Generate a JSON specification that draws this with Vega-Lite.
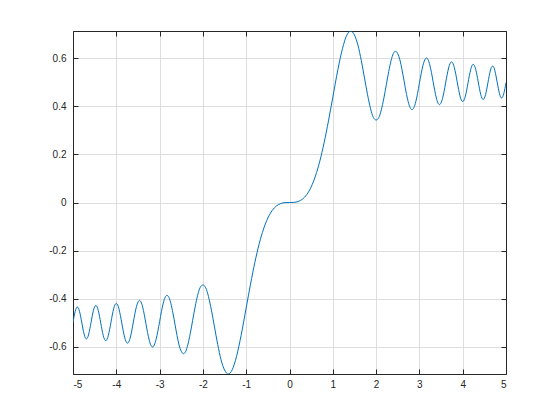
{
  "$schema": "https://vega.github.io/schema/vega-lite/v6.json",
  "width": 433,
  "height": 343,
  "autosize": {"type": "none"},
  "padding": {"left": 73, "top": 31, "right": 54, "bottom": 46},
  "background": "white",
  "config": {
    "view": {"stroke": null},
    "axis": {
      "labelFont": "Liberation Sans",
      "labelFontSize": 10,
      "labelColor": "#262626",
      "domainColor": "#262626",
      "tickColor": "#262626",
      "gridColor": "#dedede",
      "gridOpacity": 1,
      "domainWidth": 1,
      "tickWidth": 1,
      "title": null
    }
  },
  "data": {"values": [
    {"x": -5, "y": -0.4992}, {"x": -4.9749, "y": -0.4746}, {"x": -4.9497, "y": -0.4538}, {"x": -4.9244, "y": -0.4399}, {"x": -4.899, "y": -0.4351},
    {"x": -4.8734, "y": -0.4401}, {"x": -4.8477, "y": -0.4544}, {"x": -4.8218, "y": -0.4758}, {"x": -4.7958, "y": -0.5012}, {"x": -4.7697, "y": -0.5267},
    {"x": -4.7434, "y": -0.5483}, {"x": -4.717, "y": -0.5628}, {"x": -4.6904, "y": -0.5679}, {"x": -4.6637, "y": -0.5626}, {"x": -4.6368, "y": -0.5477},
    {"x": -4.6098, "y": -0.5252}, {"x": -4.5826, "y": -0.4986}, {"x": -4.5552, "y": -0.4719}, {"x": -4.5277, "y": -0.4492}, {"x": -4.5, "y": -0.4342},
    {"x": -4.4721, "y": -0.4287}, {"x": -4.4441, "y": -0.4343}, {"x": -4.4159, "y": -0.45}, {"x": -4.3875, "y": -0.4736}, {"x": -4.3589, "y": -0.5016},
    {"x": -4.3301, "y": -0.5297}, {"x": -4.3012, "y": -0.5536}, {"x": -4.272, "y": -0.5697}, {"x": -4.2426, "y": -0.5753}, {"x": -4.2131, "y": -0.5694},
    {"x": -4.1833, "y": -0.5528}, {"x": -4.1533, "y": -0.5278}, {"x": -4.1231, "y": -0.4982}, {"x": -4.0927, "y": -0.4684}, {"x": -4.062, "y": -0.443},
    {"x": -4.0311, "y": -0.426}, {"x": -4, "y": -0.4205}, {"x": -3.9686, "y": -0.4263}, {"x": -3.937, "y": -0.444}, {"x": -3.9051, "y": -0.4706},
    {"x": -3.873, "y": -0.5022}, {"x": -3.8406, "y": -0.534}, {"x": -3.8079, "y": -0.5611}, {"x": -3.7749, "y": -0.5793}, {"x": -3.7417, "y": -0.5856},
    {"x": -3.7081, "y": -0.5789}, {"x": -3.6742, "y": -0.5599}, {"x": -3.6401, "y": -0.5313}, {"x": -3.6056, "y": -0.4973}, {"x": -3.5707, "y": -0.4631},
    {"x": -3.5355, "y": -0.4339}, {"x": -3.5, "y": -0.4152}, {"x": -3.4641, "y": -0.4074}, {"x": -3.4278, "y": -0.4147}, {"x": -3.3912, "y": -0.4354},
    {"x": -3.3541, "y": -0.4664}, {"x": -3.3166, "y": -0.5034}, {"x": -3.2787, "y": -0.5407}, {"x": -3.2404, "y": -0.5726}, {"x": -3.2016, "y": -0.594},
    {"x": -3.1623, "y": -0.6015}, {"x": -3.1225, "y": -0.5934}, {"x": -3.0822, "y": -0.5707}, {"x": -3.0414, "y": -0.5364}, {"x": -3, "y": -0.4963},
    {"x": -2.958, "y": -0.4542}, {"x": -2.9155, "y": -0.4188}, {"x": -2.8723, "y": -0.3949}, {"x": -2.8284, "y": -0.3866}, {"x": -2.7839, "y": -0.3956},
    {"x": -2.7386, "y": -0.4212}, {"x": -2.6926, "y": -0.4599}, {"x": -2.6458, "y": -0.5062}, {"x": -2.5981, "y": -0.5532}, {"x": -2.5495, "y": -0.5937},
    {"x": -2.5, "y": -0.6192}, {"x": -2.4495, "y": -0.6297}, {"x": -2.3979, "y": -0.6201}, {"x": -2.3452, "y": -0.5903}, {"x": -2.2913, "y": -0.5449},
    {"x": -2.2361, "y": -0.4903}, {"x": -2.1794, "y": -0.4345}, {"x": -2.1213, "y": -0.3861}, {"x": -2.0616, "y": -0.3531}, {"x": -2, "y": -0.3434},
    {"x": -1.9365, "y": -0.3545}, {"x": -1.8708, "y": -0.3916}, {"x": -1.8028, "y": -0.4487}, {"x": -1.7321, "y": -0.5184}, {"x": -1.6583, "y": -0.5907},
    {"x": -1.5811, "y": -0.6546}, {"x": -1.5, "y": -0.6975}, {"x": -1.4142, "y": -0.714}, {"x": -1.3229, "y": -0.6965}, {"x": -1.2247, "y": -0.6417},
    {"x": -1.118, "y": -0.5534}, {"x": -1, "y": -0.4383}, {"x": -0.9, "y": -0.3398}, {"x": -0.8, "y": -0.2493}, {"x": -0.7, "y": -0.1721},
    {"x": -0.6, "y": -0.1105}, {"x": -0.5, "y": -0.0647}, {"x": -0.4, "y": -0.0334}, {"x": -0.3, "y": -0.0141}, {"x": -0.2, "y": -0.0042},
    {"x": -0.1, "y": -0.0005}, {"x": 0, "y": 0},
    {"x": 0.1, "y": 0.0005}, {"x": 0.2, "y": 0.0042}, {"x": 0.3, "y": 0.0141}, {"x": 0.4, "y": 0.0334}, {"x": 0.5, "y": 0.0647},
    {"x": 0.6, "y": 0.1105}, {"x": 0.7, "y": 0.1721}, {"x": 0.8, "y": 0.2493}, {"x": 0.9, "y": 0.3398}, {"x": 1, "y": 0.4383},
    {"x": 1.118, "y": 0.5534}, {"x": 1.2247, "y": 0.6417}, {"x": 1.3229, "y": 0.6965}, {"x": 1.4142, "y": 0.714}, {"x": 1.5, "y": 0.6975},
    {"x": 1.5811, "y": 0.6546}, {"x": 1.6583, "y": 0.5907}, {"x": 1.7321, "y": 0.5184}, {"x": 1.8028, "y": 0.4487}, {"x": 1.8708, "y": 0.3916},
    {"x": 1.9365, "y": 0.3545}, {"x": 2, "y": 0.3434}, {"x": 2.0616, "y": 0.3531}, {"x": 2.1213, "y": 0.3861}, {"x": 2.1794, "y": 0.4345},
    {"x": 2.2361, "y": 0.4903}, {"x": 2.2913, "y": 0.5449}, {"x": 2.3452, "y": 0.5903}, {"x": 2.3979, "y": 0.6201}, {"x": 2.4495, "y": 0.6297},
    {"x": 2.5, "y": 0.6192}, {"x": 2.5495, "y": 0.5937}, {"x": 2.5981, "y": 0.5532}, {"x": 2.6458, "y": 0.5062}, {"x": 2.6926, "y": 0.4599},
    {"x": 2.7386, "y": 0.4212}, {"x": 2.7839, "y": 0.3956}, {"x": 2.8284, "y": 0.3866}, {"x": 2.8723, "y": 0.3949}, {"x": 2.9155, "y": 0.4188},
    {"x": 2.958, "y": 0.4542}, {"x": 3, "y": 0.4963}, {"x": 3.0414, "y": 0.5364}, {"x": 3.0822, "y": 0.5707}, {"x": 3.1225, "y": 0.5934},
    {"x": 3.1623, "y": 0.6015}, {"x": 3.2016, "y": 0.594}, {"x": 3.2404, "y": 0.5726}, {"x": 3.2787, "y": 0.5407}, {"x": 3.3166, "y": 0.5034},
    {"x": 3.3541, "y": 0.4664}, {"x": 3.3912, "y": 0.4354}, {"x": 3.4278, "y": 0.4147}, {"x": 3.4641, "y": 0.4074}, {"x": 3.5, "y": 0.4152},
    {"x": 3.5355, "y": 0.4339}, {"x": 3.5707, "y": 0.4631}, {"x": 3.6056, "y": 0.4973}, {"x": 3.6401, "y": 0.5313}, {"x": 3.6742, "y": 0.5599},
    {"x": 3.7081, "y": 0.5789}, {"x": 3.7417, "y": 0.5856}, {"x": 3.7749, "y": 0.5793}, {"x": 3.8079, "y": 0.5611}, {"x": 3.8406, "y": 0.534},
    {"x": 3.873, "y": 0.5022}, {"x": 3.9051, "y": 0.4706}, {"x": 3.937, "y": 0.444}, {"x": 3.9686, "y": 0.4263}, {"x": 4, "y": 0.4205},
    {"x": 4.0311, "y": 0.426}, {"x": 4.062, "y": 0.443}, {"x": 4.0927, "y": 0.4684}, {"x": 4.1231, "y": 0.4982}, {"x": 4.1533, "y": 0.5278},
    {"x": 4.1833, "y": 0.5528}, {"x": 4.2131, "y": 0.5694}, {"x": 4.2426, "y": 0.5753}, {"x": 4.272, "y": 0.5697}, {"x": 4.3012, "y": 0.5536},
    {"x": 4.3301, "y": 0.5297}, {"x": 4.3589, "y": 0.5016}, {"x": 4.3875, "y": 0.4736}, {"x": 4.4159, "y": 0.45}, {"x": 4.4441, "y": 0.4343},
    {"x": 4.4721, "y": 0.4287}, {"x": 4.5, "y": 0.4342}, {"x": 4.5277, "y": 0.4492}, {"x": 4.5552, "y": 0.4719}, {"x": 4.5826, "y": 0.4986},
    {"x": 4.6098, "y": 0.5252}, {"x": 4.6368, "y": 0.5477}, {"x": 4.6637, "y": 0.5626}, {"x": 4.6904, "y": 0.5679}, {"x": 4.717, "y": 0.5628},
    {"x": 4.7434, "y": 0.5483}, {"x": 4.7697, "y": 0.5267}, {"x": 4.7958, "y": 0.5012}, {"x": 4.8218, "y": 0.4758}, {"x": 4.8477, "y": 0.4544},
    {"x": 4.8734, "y": 0.4401}, {"x": 4.899, "y": 0.4351}, {"x": 4.9244, "y": 0.4399}, {"x": 4.9497, "y": 0.4538}, {"x": 4.9749, "y": 0.4746},
    {"x": 5, "y": 0.4992}
  ]},
  "layer": [
    {
      "mark": {"type": "line", "interpolate": "monotone", "color": "#0072BD", "strokeWidth": 1, "clip": true},
      "encoding": {
        "x": {"field": "x", "type": "quantitative",
          "scale": {"domain": [-5, 5], "nice": false, "zero": false},
          "axis": {"orient": "bottom", "values": [-5, -4, -3, -2, -1, 0, 1, 2, 3, 4, 5], "tickSize": -5, "labelPadding": 10, "grid": true,
            "labelExpr": "datum.value < 0 ? '-' + format(-datum.value, '~g') : format(datum.value, '~g')"}},
        "y": {"field": "y", "type": "quantitative",
          "scale": {"domain": [-0.714, 0.714], "nice": false, "zero": false},
          "axis": {"orient": "left", "values": [-0.6, -0.4, -0.2, 0, 0.2, 0.4, 0.6], "tickSize": -5, "labelPadding": 12, "grid": true,
            "labelExpr": "datum.value < 0 ? '-' + format(-datum.value, '~g') : format(datum.value, '~g')"}}
      }
    },
    {
      "mark": {"type": "line", "opacity": 0},
      "encoding": {
        "x": {"field": "x", "type": "quantitative",
          "scale": {"domain": [-5, 5], "nice": false, "zero": false},
          "axis": {"orient": "top", "values": [-5, -4, -3, -2, -1, 0, 1, 2, 3, 4, 5], "tickSize": -5, "labels": false, "grid": false}},
        "y": {"field": "y", "type": "quantitative",
          "scale": {"domain": [-0.714, 0.714], "nice": false, "zero": false},
          "axis": {"orient": "right", "values": [-0.6, -0.4, -0.2, 0, 0.2, 0.4, 0.6], "tickSize": -5, "labels": false, "grid": false}}
      }
    }
  ],
  "resolve": {"axis": {"x": "independent", "y": "independent"}}
}
